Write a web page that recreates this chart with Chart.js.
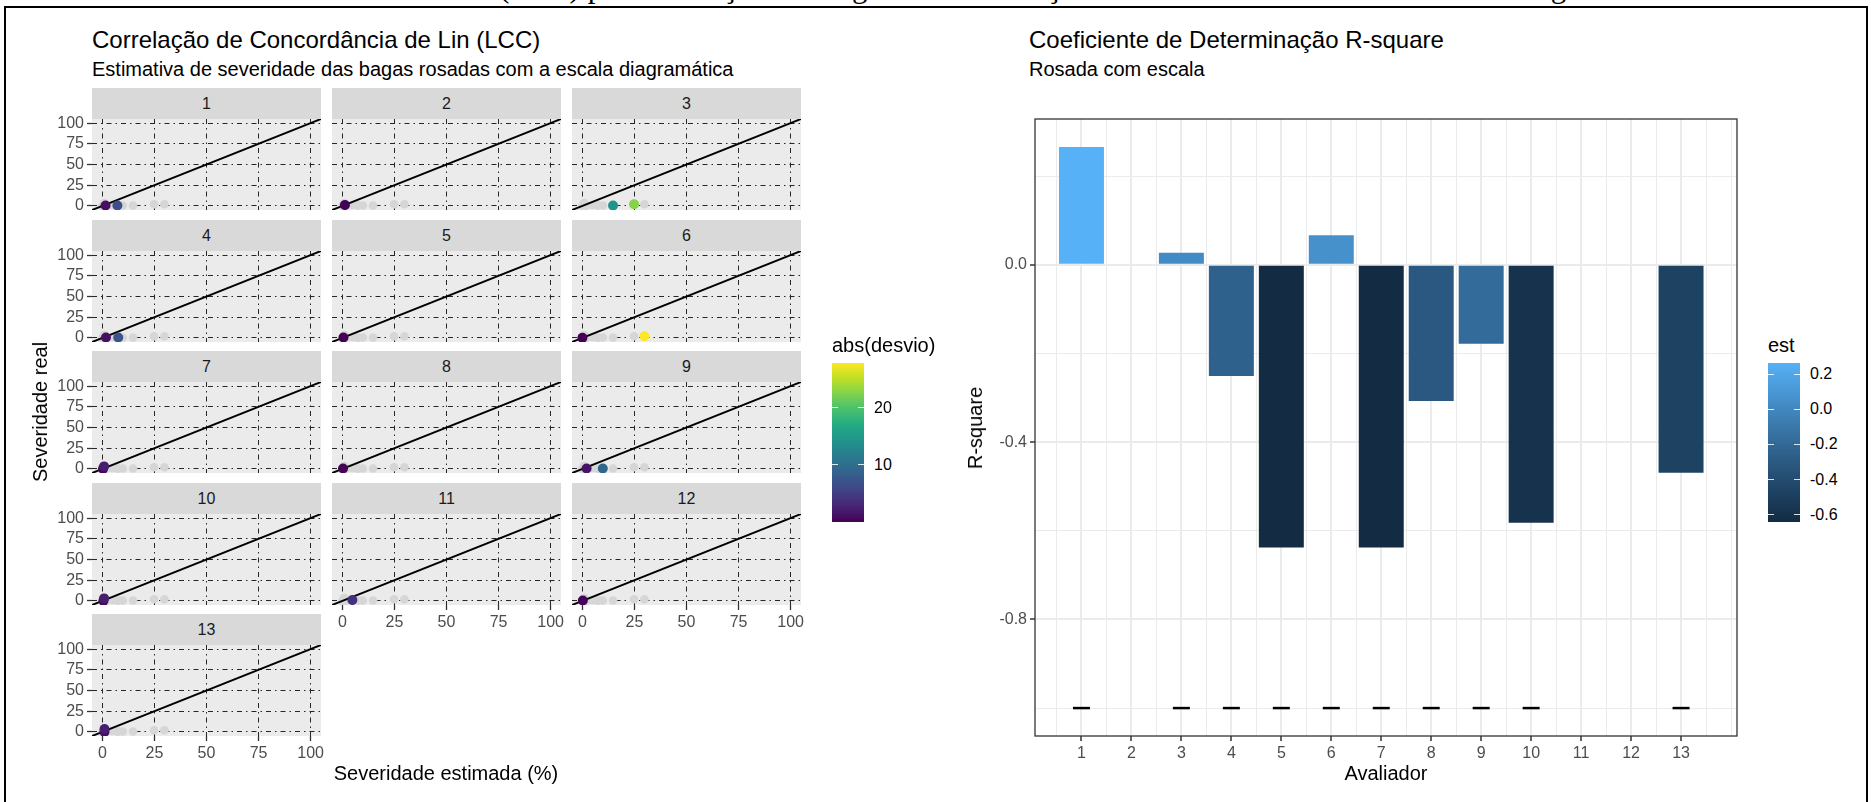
<!DOCTYPE html>
<html lang="pt-BR">
<head>
<meta charset="utf-8">
<title>LCC e R-square</title>
<script src="https://cdn.jsdelivr.net/npm/chart.js@4.4.1/dist/chart.umd.min.js"></script>
<style>
  html, body { margin: 0; padding: 0; background: #fff; }
  body { position: relative; width: 1871px; height: 802px; overflow: hidden;
         font-family: "Liberation Sans", Arial, sans-serif; color: #000; }
  .t { position: absolute; white-space: nowrap; line-height: 1; }
  canvas { position: absolute; }
  .strip { position: absolute; background: #D9D9D9; color: #1A1A1A; font-size: 16px; text-align: center; }
  .barra { position: absolute; }
  .moldura { position: absolute; border: 2.7px solid #000; box-sizing: border-box; }
</style>
</head>
<body>
<div class="moldura" style="left:4px;top:6px;width:1864px;height:830px"></div>
<script>
// ---- Painel LCC: severidade estimada (x) e real (y) de cada avaliador ----
const avaliadores = ["1", "2", "3", "4", "5", "6", "7", "8", "9", "10", "11", "12", "13"];
const sevEstimada = [
  [1.5, 7.2], [1.2], [14.7, 24.8], [1.7, 7.6], [0.5], [0, 29.8], [0.3, 0.8],
  [0.3], [2, 9.8], [0.5, 0.8], [4.8], [0.2], [1, 1]
];
const sevReal = [
  [0.5, 0.5], [1], [0.4, 2], [0.5, 0.5], [0.5], [0, 1.9], [0, 3],
  [0.5], [0.5, 0.5], [0, 3], [1], [0.5], [0, 3.5]
];
const eixoSev = [0, 25, 50, 75, 100];
const limSev = [-5, 105];
const legDesvio = [10, 20];

// ---- Painel R-square ----
const avaliadorNum = [1, 3, 4, 5, 6, 7, 8, 9, 10, 13];
const rQuadrado = [0.266, 0.027, -0.251, -0.638, 0.067, -0.638, -0.307, -0.178, -0.582, -0.469];
const marcaTraco = [-1, -1, -1, -1, -1, -1, -1, -1, -1, -1];
const ticksAvaliador = [1, 2, 3, 4, 5, 6, 7, 8, 9, 10, 11, 12, 13];
const limAval = [0.07, 14.12];
const ticksR = [-0.8, -0.4, 0];
const gradeR = [-1.0, -0.8, -0.6, -0.4, -0.2, 0, 0.2];
const limR = [-1.063, 0.329];
const legEst = [0.2, 0.0, -0.2, -0.4, -0.6];

Chart.defaults.font.family = '"Liberation Sans", Arial, sans-serif';

// viridis
const viridis = ["#440154", "#482475", "#414487", "#355f8d", "#2a788e", "#21918c",
                 "#22a884", "#44bf70", "#7ad151", "#bddf26", "#fde725"];
function hexRgb(h) {
  return [parseInt(h.slice(1, 3), 16), parseInt(h.slice(3, 5), 16), parseInt(h.slice(5, 7), 16)];
}
function corViridis(t) {
  t = Math.min(1, Math.max(0, t)) * (viridis.length - 1);
  const i = Math.min(Math.floor(t), viridis.length - 2), f = t - i;
  const a = hexRgb(viridis[i]), b = hexRgb(viridis[i + 1]);
  return "rgb(" + a.map((v, k) => Math.round(v + (b[k] - v) * f)).join(",") + ")";
}

// gradiente padrao do ggplot (#132B43 -> #56B1F7) em Lab
function paraLin(c) { c /= 255; return c <= 0.04045 ? c / 12.92 : Math.pow((c + 0.055) / 1.055, 2.4); }
function deLin(c) {
  const v = c <= 0.0031308 ? 12.92 * c : 1.055 * Math.pow(c, 1 / 2.4) - 0.055;
  return Math.round(Math.min(1, Math.max(0, v)) * 255);
}
function rgbLab(rgb) {
  const [R, G, B] = rgb.map(paraLin);
  const X = (0.4124 * R + 0.3576 * G + 0.1805 * B) / 0.95047;
  const Y = 0.2126 * R + 0.7152 * G + 0.0722 * B;
  const Z = (0.0193 * R + 0.1192 * G + 0.9505 * B) / 1.08883;
  const f = t => t > 0.008856 ? Math.cbrt(t) : 7.787 * t + 16 / 116;
  return [116 * f(Y) - 16, 500 * (f(X) - f(Y)), 200 * (f(Y) - f(Z))];
}
function labRgb([L, a, b]) {
  const fy = (L + 16) / 116, fx = fy + a / 500, fz = fy - b / 200;
  const fi = t => t * t * t > 0.008856 ? t * t * t : (t - 16 / 116) / 7.787;
  const X = fi(fx) * 0.95047, Y = fi(fy), Z = fi(fz) * 1.08883;
  const R = 3.2406 * X - 1.5372 * Y - 0.4986 * Z;
  const G = -0.9689 * X + 1.8758 * Y + 0.0415 * Z;
  const B = 0.0557 * X - 0.2040 * Y + 1.0570 * Z;
  return "rgb(" + deLin(R) + "," + deLin(G) + "," + deLin(B) + ")";
}
const labBaixo = rgbLab(hexRgb("#132B43")), labAlto = rgbLab(hexRgb("#56B1F7"));
function corGrad(t) {
  t = Math.min(1, Math.max(0, t));
  return labRgb(labBaixo.map((v, k) => v + (labAlto[k] - v) * t));
}

// desvios absolutos e faixa da legenda
const desvios = sevEstimada.map((xs, i) => xs.map((x, k) => Math.abs(x - sevReal[i][k])));
const desvioMin = Math.min(...desvios.flat()), desvioMax = Math.max(...desvios.flat());
const estMin = Math.min(...rQuadrado), estMax = Math.max(...rQuadrado);

// todos os pontos em cinza no fundo de cada painel
const pontosTodos = sevEstimada.flatMap((xs, i) => xs.map((x, k) => ({ x: x, y: sevReal[i][k] })));

function texto(str, x, y, size, extra) {
  const d = document.createElement("div");
  d.className = "t";
  d.textContent = str;
  d.style.left = x + "px";
  d.style.top = y + "px";
  d.style.fontSize = size + "px";
  Object.assign(d.style, extra || {});
  document.body.appendChild(d);
  return d;
}
function novoCanvas(x, y, w, h) {
  const cv = document.createElement("canvas");
  cv.width = w; cv.height = h;
  cv.style.left = x + "px"; cv.style.top = y + "px";
  cv.style.width = w + "px"; cv.style.height = h + "px";
  document.body.appendChild(cv);
  return cv;
}

const fundo = {
  id: "fundo",
  beforeDraw(ch, args, opts) {
    const a = ch.chartArea, c = ch.ctx;
    c.save();
    c.fillStyle = opts.cor;
    c.fillRect(a.left, a.top, a.right - a.left, a.bottom - a.top);
    c.restore();
  }
};
const moldura = {
  id: "moldura",
  afterDraw(ch) {
    const a = ch.chartArea, c = ch.ctx;
    c.save();
    c.strokeStyle = "#333333";
    c.lineWidth = 1.3;
    c.strokeRect(a.left, a.top, a.right - a.left, a.bottom - a.top);
    c.restore();
  }
};

// ---------- facetas ----------
const ML = 55, MT = 12, MR = 15, MB = 40, PW = 229, PH = 91;
avaliadores.forEach((nome, i) => {
  const col = i % 3, lin = Math.floor(i / 3);
  const px = 92 + col * 240;
  const stripTop = Math.round(88 + lin * 131.5);
  const plotTop = stripTop + 31;
  const mostraX = lin === 4 || (lin === 3 && col > 0);
  const mostraY = col === 0;

  const s = document.createElement("div");
  s.className = "strip";
  s.textContent = nome;
  Object.assign(s.style, { left: px + "px", top: stripTop + "px", width: PW + "px",
                           height: "31px", lineHeight: "31px" });
  document.body.appendChild(s);

  const cv = novoCanvas(px - ML, plotTop - MT, ML + PW + MR, MT + PH + MB);
  const pts = sevEstimada[i].map((x, k) => ({ x: x, y: sevReal[i][k] }));
  const cores = desvios[i].map(d => corViridis((d - desvioMin) / (desvioMax - desvioMin)));
  const eixo = (mostra, horiz) => ({
    type: "linear", min: limSev[0], max: limSev[1],
    afterBuildTicks: sc => { sc.ticks = eixoSev.map(v => ({ value: v })); },
    afterFit: sc => {
      if (horiz) { sc.height = MB; sc.paddingLeft = 0; sc.paddingRight = 0; }
      else { sc.width = ML; sc.paddingTop = 0; sc.paddingBottom = 0; }
    },
    grid: { color: "#262626", lineWidth: 1, drawTicks: mostra, tickLength: 5,
            tickColor: "#333333", tickWidth: 1.3 },
    border: { display: false, dash: [5, 4, 1.5, 4] },
    ticks: { display: mostra, color: "#4D4D4D", font: { size: 16 }, padding: 3,
             maxRotation: 0, autoSkip: false }
  });
  new Chart(cv, {
    type: "scatter",
    data: {
      datasets: [
        { data: pontosTodos, backgroundColor: "#D6D6D6", borderWidth: 0, pointRadius: 4.3, order: 3 },
        { data: [{ x: limSev[0], y: limSev[0] }, { x: limSev[1], y: limSev[1] }], showLine: true,
          borderColor: "#000", borderWidth: 2, pointRadius: 0, order: 2 },
        { data: pts, backgroundColor: cores, borderWidth: 0, pointRadius: 5, order: 1 }
      ]
    },
    options: {
      responsive: false, animation: false, devicePixelRatio: 1, events: [],
      layout: { padding: { left: 0, top: MT, right: MR, bottom: 0 } },
      plugins: { legend: { display: false }, tooltip: { enabled: false }, fundo: { cor: "#EBEBEB" } },
      scales: { x: eixo(mostraX, true), y: eixo(mostraY, false) }
    },
    plugins: [fundo]
  });
});

// ---------- barras R-square ----------
const gradeAval = Array.from({ length: 28 }, (_, k) => (k + 1) / 2);
const ehMaiorX = v => ticksAvaliador.includes(v);
const ehMaiorY = v => ticksR.includes(v);
const cvR = novoCanvas(940, 100, 810, 690);
new Chart(cvR, {
  type: "bar",
  data: {
    datasets: [
      { type: "bar", data: avaliadorNum.map((a, i) => ({ x: a, y: rQuadrado[i] })),
        backgroundColor: rQuadrado.map(v => corGrad((v - estMin) / (estMax - estMin))),
        borderWidth: 0, categoryPercentage: 1.8, barPercentage: 1.0, order: 2 },
      { type: "scatter", data: avaliadorNum.map((a, i) => ({ x: a, y: marcaTraco[i] })),
        pointStyle: "line", pointRadius: 8.5, pointBorderWidth: 2.5, pointBorderColor: "#000",
        order: 1 }
    ]
  },
  options: {
    responsive: false, animation: false, devicePixelRatio: 1, events: [],
    layout: { padding: { left: 0, top: 19, right: 13, bottom: 0 } },
    plugins: { legend: { display: false }, tooltip: { enabled: false }, fundo: { cor: "#FFFFFF" } },
    scales: {
      x: {
        type: "linear", min: limAval[0], max: limAval[1], offset: false,
        afterBuildTicks: sc => { sc.ticks = gradeAval.map(v => ({ value: v })); },
        afterFit: sc => { sc.height = 54; sc.paddingLeft = 0; sc.paddingRight = 0; },
        grid: { offset: false, color: "#EBEBEB", lineWidth: c => ehMaiorX(c.tick.value) ? 2 : 1,
                tickLength: 5, tickWidth: 1.5,
                tickColor: c => ehMaiorX(c.tick.value) ? "#333333" : "rgba(0,0,0,0)" },
        border: { display: false },
        ticks: { color: "#4D4D4D", font: { size: 16 }, padding: 3, maxRotation: 0, autoSkip: false,
                 callback: v => ehMaiorX(v) ? String(v) : "" }
      },
      y: {
        type: "linear", min: limR[0], max: limR[1],
        afterBuildTicks: sc => { sc.ticks = gradeR.map(v => ({ value: v })); },
        afterFit: sc => { sc.width = 95; sc.paddingTop = 0; sc.paddingBottom = 0; },
        grid: { color: "#EBEBEB", lineWidth: c => ehMaiorY(c.tick.value) ? 2 : 1,
                tickLength: 5, tickWidth: 1.5,
                tickColor: c => ehMaiorY(c.tick.value) ? "#333333" : "rgba(0,0,0,0)" },
        border: { display: false },
        ticks: { color: "#4D4D4D", font: { size: 16 }, padding: 3, autoSkip: false,
                 callback: v => ehMaiorY(v) ? v.toFixed(1) : "" }
      }
    }
  },
  plugins: [fundo, moldura]
});

// ---------- legendas (barras de cor) ----------
const BAR = { w: 31.5, h: 159, top: 362.5 };
function barraCor(left, cores, titulo, valores, vMin, vMax, fmt) {
  const stops = cores.map((c, k) => c + " " + (k / (cores.length - 1) * 100).toFixed(1) + "%");
  const b = document.createElement("div");
  b.className = "barra";
  Object.assign(b.style, { left: left + "px", top: BAR.top + "px", width: BAR.w + "px", height: BAR.h + "px",
                           background: "linear-gradient(to top, " + stops.join(", ") + ")" });
  document.body.appendChild(b);
  texto(titulo, left, 345, 20, { transform: "translateY(-50%)" });
  valores.forEach(v => {
    const y = BAR.top + (vMax - v) / (vMax - vMin) * BAR.h;
    [0, BAR.w - 6].forEach(dx => {
      const tk = document.createElement("div");
      tk.className = "barra";
      Object.assign(tk.style, { left: (left + dx) + "px", top: (y - 0.6) + "px", width: "6px",
                                height: "1.2px", background: "rgba(255,255,255,0.85)" });
      document.body.appendChild(tk);
    });
    texto(fmt(v), left + BAR.w + 10.5, y, 16, { transform: "translateY(-50%)" });
  });
}
barraCor(832, viridis, "abs(desvio)", legDesvio, desvioMin, desvioMax, v => String(v));
barraCor(1768, Array.from({ length: 11 }, (_, k) => corGrad(k / 10)), "est", legEst, estMin, estMax,
         v => v.toFixed(1));

// ---------- textos ----------
texto("(LCC) para avaliação das bagas e determinação da severidade estimada na escala diagramática",
      499, -28.8, 31, { fontFamily: '"Liberation Serif", "Times New Roman", serif' });
texto("Correlação de Concordância de Lin (LCC)", 92, 27.7, 24);
texto("Estimativa de severidade das bagas rosadas com a escala diagramática", 92, 58.5, 20);
texto("Coeficiente de Determinação R-square", 1029, 27.7, 24);
texto("Rosada com escala", 1029, 58.5, 20);
texto("Severidade real", 39.5, 412, 20, { transform: "translate(-50%,-50%) rotate(-90deg)" });
texto("Severidade estimada (%)", 446, 773, 20, { transform: "translate(-50%,-50%)" });
texto("R-square", 975, 427.5, 20, { transform: "translate(-50%,-50%) rotate(-90deg)" });
texto("Avaliador", 1386, 773, 20, { transform: "translate(-50%,-50%)" });
</script>
</body>
</html>
